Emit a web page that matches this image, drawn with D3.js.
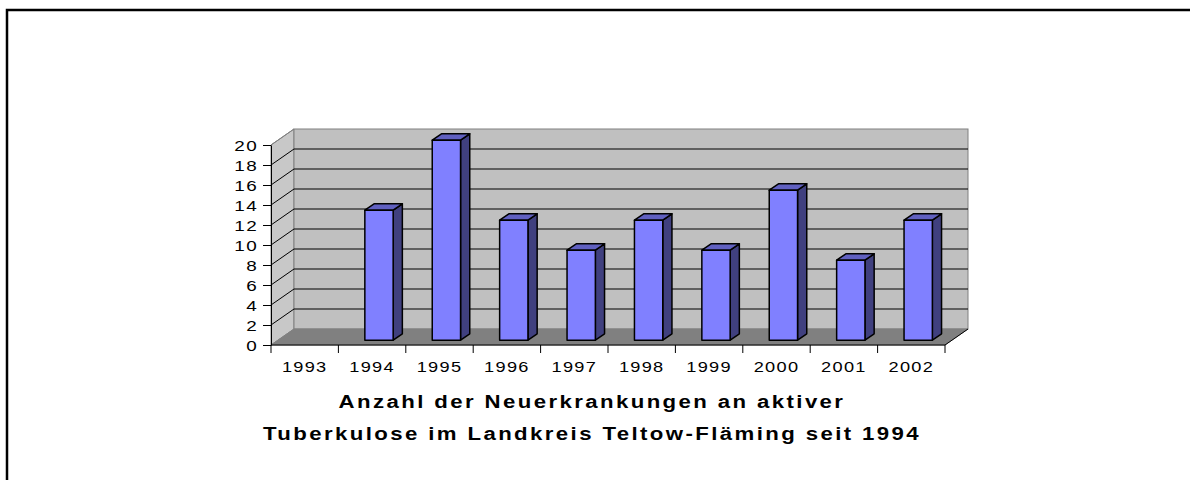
<!DOCTYPE html>
<meta charset="utf-8">
<style>
body { margin: 0; background: #fff; }
svg text { font-family: "Liberation Sans", Arial, sans-serif; }
</style>
<svg width="1190" height="480"></svg>
<script src="https://d3js.org/d3.v7.min.js"></script>
<script>

var years = ["1993","1994","1995","1996","1997","1998","1999","2000","2001","2002"];
var cases = [0, 13, 20, 12, 9, 12, 9, 15, 8, 12];
var yTicks = [0, 2, 4, 6, 8, 10, 12, 14, 16, 18, 20];
var titleLines = ["Anzahl der Neuerkrankungen an aktiver",
                  "Tuberkulose im Landkreis Teltow-Fläming seit 1994"];

var svg = d3.select("svg");

// depth offset of the 3d box
var dx = 23, dy = -16;

var x = d3.scaleBand()
    .domain(years)
    .range([271, 945])
    .paddingInner(0.58)
    .paddingOuter(0.29);
var xEdge = d3.scaleLinear().domain([0, years.length]).range([271, 945]);
var y = d3.scaleLinear().domain([0, 20]).range([345, 145]);

// outer frame
svg.append("rect")
    .attr("x", 7).attr("y", 10)
    .attr("width", 1300).attr("height", 600)
    .attr("fill", "none")
    .attr("stroke", "#000")
    .attr("stroke-width", 2.5);

var x0 = xEdge(0), x1 = xEdge(years.length), yb = y(0), yt = y(20);

// left wall
svg.append("polygon")
    .attr("points", [[x0, yb], [x0 + dx, yb + dy], [x0 + dx, yt + dy], [x0, yt]].join(" "))
    .attr("fill", "#c8c8c8")
    .attr("stroke", "#808080");

// back wall
svg.append("rect")
    .attr("x", x0 + dx).attr("y", yt + dy)
    .attr("width", x1 - x0).attr("height", yb - yt)
    .attr("fill", "#c0c0c0")
    .attr("stroke", "#808080");

// floor
svg.append("polygon")
    .attr("points", [[x0, yb], [x1, yb], [x1 + dx, yb + dy], [x0 + dx, yb + dy]].join(" "))
    .attr("fill", "#808080")
    .attr("stroke", "#808080");

// gridlines
var grid = svg.append("g").attr("stroke", "#000").attr("stroke-width", 1);
yTicks.filter(function(d) { return d > 0 && d < 20; }).forEach(function(d) {
  grid.append("line")
      .attr("x1", x0).attr("y1", y(d))
      .attr("x2", x0 + dx).attr("y2", y(d) + dy);
  grid.append("line")
      .attr("x1", x0 + dx).attr("y1", y(d) + dy)
      .attr("x2", x1 + dx).attr("y2", y(d) + dy);
});
grid.append("line")
    .attr("x1", x0).attr("y1", yt)
    .attr("x2", x0 + dx).attr("y2", yt + dy)
    .attr("stroke", "#808080");

// bars
var bw = x.bandwidth();
var d0 = 0.3, d1 = 0.7;
var bars = svg.append("g")
    .attr("stroke", "#000")
    .attr("stroke-width", 1.5)
    .attr("stroke-linejoin", "round");

years.forEach(function(yr, i) {
  var v = cases[i];
  if (!v) return;
  var fx = x(yr) + d0 * dx, fyb = yb + d0 * dy, fyt = y(v) + d0 * dy;
  var ox = (d1 - d0) * dx, oy = (d1 - d0) * dy;
  var g = bars.append("g");
  g.append("polygon")
      .attr("points", [[fx + bw, fyb], [fx + bw + ox, fyb + oy], [fx + bw + ox, fyt + oy], [fx + bw, fyt]].join(" "))
      .attr("fill", "#40407f");
  g.append("polygon")
      .attr("points", [[fx, fyt], [fx + bw, fyt], [fx + bw + ox, fyt + oy], [fx + ox, fyt + oy]].join(" "))
      .attr("fill", "#6060c0");
  g.append("rect")
      .attr("x", fx).attr("y", fyt)
      .attr("width", bw).attr("height", fyb - fyt)
      .attr("fill", "#8080ff");
});

// right floor edge
svg.append("line")
    .attr("x1", x1).attr("y1", yb)
    .attr("x2", x1 + dx).attr("y2", yb + dy)
    .attr("stroke", "#000");

// y axis (labels drawn horizontally stretched like the original)
var yAxis = svg.append("g")
    .attr("transform", "translate(" + x0 + ",0)")
    .call(d3.axisLeft(y).tickValues(yTicks).tickSize(8).tickSizeOuter(0));
yAxis.select(".domain").attr("stroke", "#000");
yAxis.selectAll(".tick text").remove();
yAxis.selectAll(".tick").append("text")
    .attr("transform", "translate(-13,5) scale(1.35,1)")
    .attr("text-anchor", "end")
    .attr("font-size", 14)
    .attr("letter-spacing", "1px")
    .attr("fill", "#000")
    .text(function(d) { return d; });

// x axis
var xAxis = svg.append("g");
xAxis.append("line")
    .attr("x1", x0).attr("x2", x1)
    .attr("y1", yb).attr("y2", yb)
    .attr("stroke", "#000");
xAxis.selectAll(".tick")
    .data(d3.range(years.length + 1))
  .enter().append("line")
    .attr("x1", function(d) { return xEdge(d); })
    .attr("x2", function(d) { return xEdge(d); })
    .attr("y1", yb).attr("y2", yb + 8)
    .attr("stroke", "#000");
xAxis.selectAll("text")
    .data(years)
  .enter().append("text")
    .attr("transform", function(d) {
      return "translate(" + (x(d) + bw / 2) + ",371.5) scale(1.3,1)";
    })
    .attr("text-anchor", "middle")
    .attr("font-size", 14)
    .attr("letter-spacing", "1px")
    .text(function(d) { return d; });

// title, also slightly stretched
svg.selectAll(".title")
    .data(titleLines)
  .enter().append("text")
    .attr("class", "title")
    .attr("transform", function(d, i) {
      return "translate(592," + (408 + i * 32) + ") scale(1.2,1)";
    })
    .attr("text-anchor", "middle")
    .attr("font-size", 18.5)
    .attr("font-weight", "bold")
    .attr("letter-spacing", "2px")
    .text(function(d) { return d; });

</script>
